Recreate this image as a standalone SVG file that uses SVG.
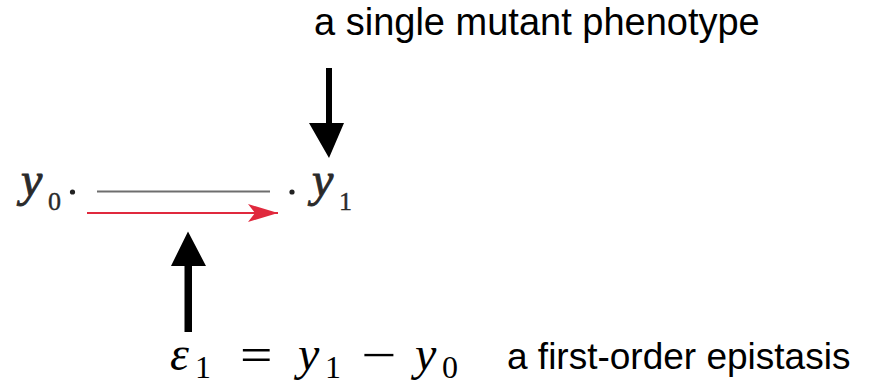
<svg xmlns="http://www.w3.org/2000/svg" width="869" height="389" viewBox="0 0 869 389">
<style>
.lbl{font-family:"Liberation Sans",Arial,sans-serif;fill:#000}
.mi{font-family:"Liberation Serif","Times New Roman",serif;font-style:italic;fill:#000}
.mn{font-family:"Liberation Serif","Times New Roman",serif;fill:#000}
.nl{font-family:"Liberation Serif","Times New Roman",serif;font-style:italic;fill:#2a2a2a;stroke:#2a2a2a;stroke-width:0.9}
.ns{font-family:"Liberation Serif","Times New Roman",serif;fill:#2a2a2a;stroke:#2a2a2a;stroke-width:0.4}
</style>
<defs>
<marker id="redhead" viewBox="0 0 30 18" refX="30" refY="9" markerWidth="30" markerHeight="18" markerUnits="userSpaceOnUse" orient="auto">
<path d="M0,0 L30,9 L0,18 L7,9 Z" fill="#e0293d"/>
</marker>
</defs>
<rect width="869" height="389" fill="#fff"/>
<g id="node-y0">
<text class="nl" x="21" y="196" font-size="48">y</text>
<text class="ns" x="48" y="210" font-size="26">0</text>
<circle cx="72.5" cy="192" r="2.6" fill="#222"/>
</g>
<g id="node-y1">
<circle cx="292" cy="192" r="2.6" fill="#222"/>
<text class="nl" x="312" y="196" font-size="48">y</text>
<text class="ns" x="339" y="210" font-size="26">1</text>
</g>
<g id="connectors">
<line x1="97" y1="191.5" x2="270" y2="191.5" stroke="#6e6e6e" stroke-width="2"/>
<line x1="87" y1="213" x2="278" y2="213" stroke="#e0293d" stroke-width="2.2" marker-end="url(#redhead)"/>
<path d="M326,68 L332,68 L332,123 L344,123 L329,158 L309,123 L326,123 Z" fill="#000"/>
<path d="M184.5,332 L192,332 L192,266 L206,266 L188,231.5 L171,266 L184.5,266 Z" fill="#000"/>
</g>
<g id="label-top">
<text class="lbl" x="314" y="35" font-size="38">a single mutant phenotype</text>
</g>
<g id="label-equation">
<text class="mi" x="170" y="370" font-size="48">ε</text>
<text class="mn" x="195" y="378" font-size="32">1</text>
<text class="mn" font-size="48" transform="translate(240,371) scale(1.2,1)">=</text>
<text class="mi" x="298" y="370" font-size="48">y</text>
<text class="mn" x="325" y="378" font-size="32">1</text>
<text class="mn" font-size="48" transform="translate(361,371) scale(1.3,1)">−</text>
<text class="mi" x="415" y="370" font-size="48">y</text>
<text class="mn" x="442" y="378" font-size="32">0</text>
</g>
<g id="label-bottom">
<text class="lbl" x="507" y="369" font-size="37">a first-order epistasis</text>
</g>
</svg>
